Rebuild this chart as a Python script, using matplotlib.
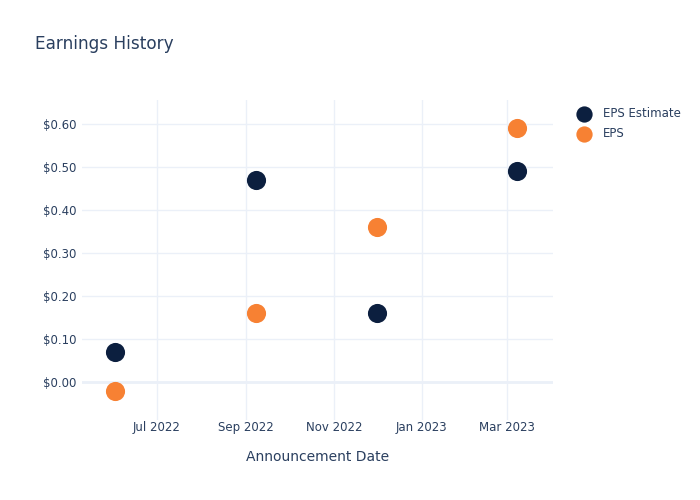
import matplotlib
matplotlib.use("Agg")
import matplotlib.pyplot as plt
import matplotlib.dates as mdates
import numpy as np
import datetime as dt

dates = [dt.date(2022, 6, 2), dt.date(2022, 9, 8), dt.date(2022, 12, 1), dt.date(2023, 3, 8)]
eps_estimate = [0.07, 0.47, 0.16, 0.49]
eps_actual = [-0.02, 0.16, 0.36, 0.59]

txt = "#2a3f5f"
grid = "#ebf0f8"

fig = plt.figure(figsize=(7, 5), dpi=100)
ax = fig.add_axes([0.117, 0.16, 0.673, 0.64])

ax.scatter(dates, eps_estimate, s=190, color="#0c1f3f", label="EPS Estimate", zorder=3, linewidths=0)
ax.scatter(dates, eps_actual, s=190, color="#f78133", label="EPS", zorder=3, linewidths=0)

ax.set_xlim(dt.date(2022, 5, 10), dt.date(2023, 4, 2))
ax.set_ylim(-0.088, 0.656)

ax.xaxis.set_major_locator(mdates.MonthLocator(bymonth=[1, 3, 5, 7, 9, 11]))
ax.xaxis.set_major_formatter(mdates.DateFormatter("%b %Y"))
ax.set_yticks(np.arange(0, 0.61, 0.1))
ax.yaxis.set_major_formatter(plt.FuncFormatter(lambda v, p: f"${v:.2f}"))

ax.grid(True, color=grid, linewidth=1)
ax.axhline(0, color=grid, linewidth=2, zorder=1)
ax.set_axisbelow(True)
for s in ax.spines.values():
    s.set_visible(False)
ax.tick_params(axis="y", length=0, colors=txt, labelsize=8.5, pad=4)
ax.tick_params(axis="x", length=0, colors=txt, labelsize=8.5, pad=1)

ax.set_xlabel("Announcement Date", color=txt, fontsize=10, labelpad=11)
fig.text(0.05, 0.912, "Earnings History", color=txt, fontsize=12.2, va="center")

leg = fig.legend(loc="upper left", bbox_to_anchor=(0.81, 0.795), frameon=False,
                 fontsize=8.5, labelcolor=txt, handletextpad=0.65, borderaxespad=0,
                 labelspacing=0.6, markerscale=0.85)

fig.savefig("out.png", dpi=100)
